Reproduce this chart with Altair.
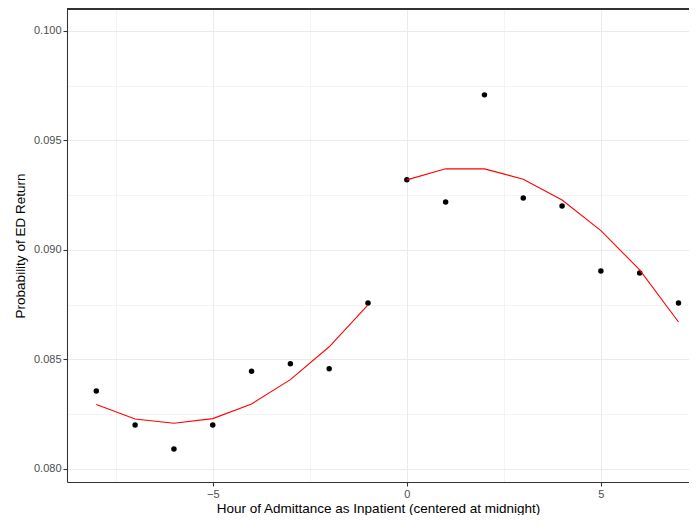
import altair as alt
import pandas as pd

hours = [-8, -7, -6, -5, -4, -3, -2, -1, 0, 1, 2, 3, 4, 5, 6, 7]
observed = [0.08356, 0.08201, 0.08091, 0.08201, 0.08446, 0.08480, 0.08458, 0.08758,
            0.09320, 0.09219, 0.09708, 0.09237, 0.09201, 0.08904, 0.08895, 0.08758]
fitted_left_hours = [-8, -7, -6, -5, -4, -3, -2, -1]
fitted_left = [0.08294, 0.08228, 0.08209, 0.08230, 0.08297, 0.08408, 0.08558, 0.08749]
fitted_right_hours = [0, 1, 2, 3, 4, 5, 6, 7]
fitted_right = [0.09320, 0.09371, 0.09370, 0.09323, 0.09228, 0.09088, 0.08909, 0.08671]

x_ticks = [-7.5, -5, -2.5, 0, 2.5, 5, 7.5]
y_ticks = [0.0800, 0.0825, 0.0850, 0.0875, 0.0900, 0.0925, 0.0950, 0.0975, 0.1000]

pts = pd.DataFrame({"hour": hours, "prob": observed})
fit = pd.DataFrame({
    "hour": fitted_left_hours + fitted_right_hours,
    "prob": fitted_left + fitted_right,
    "side": ["before"] * len(fitted_left) + ["after"] * len(fitted_right),
})

W, H = 622, 473
FONT = "Liberation Sans"

x_scale = alt.Scale(domain=[-8.755, 7.27], nice=False, zero=False)
y_scale = alt.Scale(domain=[0.079406, 0.101], nice=False, zero=False)

x_axis = alt.Axis(
    title="Hour of Admittance as Inpatient (centered at midnight)",
    values=x_ticks,
    labelExpr="datum.value % 5 === 0 ? datum.label : ''",
    tickOpacity={"condition": {"test": "datum.value % 5 === 0", "value": 1}, "value": 0},
    gridWidth={"condition": {"test": "datum.value % 5 === 0", "value": 1.07}, "value": 0.55},
    gridColor="#EBEBEB",
    tickColor="#333333", tickSize=4, tickWidth=1.07,
    domainColor="#333333", domainWidth=1.07,
    labelColor="#4D4D4D", labelFontSize=11, labelFont=FONT, labelPadding=2,
    titleColor="#000000", titleFontSize=13.5, titleFont=FONT, titleFontWeight="normal",
    titlePadding=2,
)
y_test = "abs(datum.value*200 - round(datum.value*200)) < 0.001"
y_axis = alt.Axis(
    title="Probability of ED Return",
    values=y_ticks,
    labelExpr=f"{y_test} ? format(datum.value, '.3f') : ''",
    tickOpacity={"condition": {"test": y_test, "value": 1}, "value": 0},
    gridWidth={"condition": {"test": y_test, "value": 1.07}, "value": 0.55},
    gridColor="#EBEBEB",
    tickColor="#333333", tickSize=4, tickWidth=1.07,
    domainColor="#333333", domainWidth=1.07,
    labelColor="#4D4D4D", labelFontSize=11, labelFont=FONT, labelPadding=2,
    titleColor="#000000", titleFontSize=13.5, titleFont=FONT, titleFontWeight="normal",
    titlePadding=6,
)

points = alt.Chart(pts).mark_circle(size=30, color="black", opacity=1).encode(
    x=alt.X("hour:Q", scale=x_scale, axis=x_axis),
    y=alt.Y("prob:Q", scale=y_scale, axis=y_axis),
)

lines = alt.Chart(fit).mark_line(color="#FF0000", strokeWidth=1.1).encode(
    x=alt.X("hour:Q", scale=x_scale),
    y=alt.Y("prob:Q", scale=y_scale),
    detail="side:N",
)

top_border = alt.Chart(pts).mark_rule(color="#333333", strokeWidth=1.07).encode(
    x=alt.value(0), x2=alt.value(W), y=alt.value(0)
)

chart = alt.layer(points, lines, top_border).properties(
    width=W, height=H,
    autosize=alt.AutoSizeParams(type="none"),
    padding={"left": 59, "top": 1, "right": 0, "bottom": 33},
).configure_view(stroke=None)

chart.save("out.html", embed_options={"renderer": "svg", "actions": False})
